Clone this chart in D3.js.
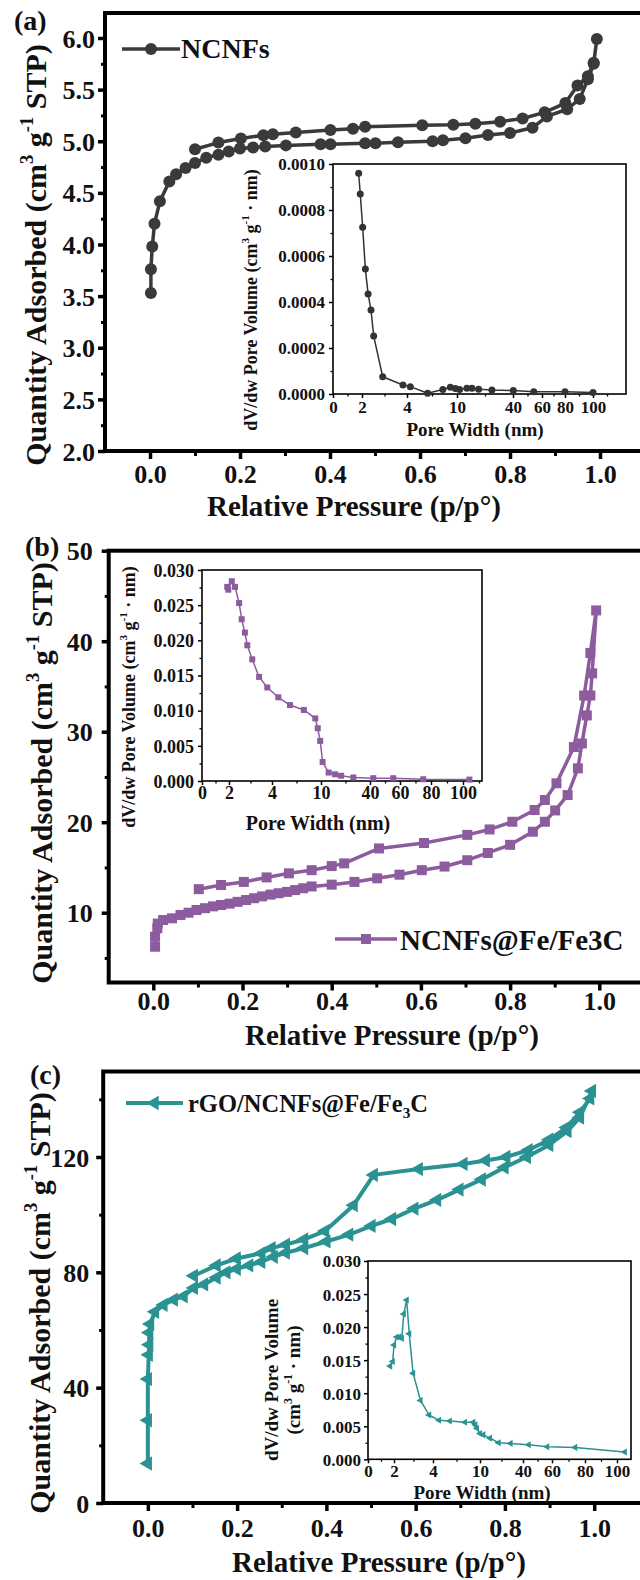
<!DOCTYPE html>
<html><head><meta charset="utf-8">
<script src="https://cdn.jsdelivr.net/npm/d3@7"></script>
<style>
body{margin:0;background:#fff}
text{font-family:"Liberation Serif","Times New Roman",serif;font-weight:bold;fill:#111}
</style>
</head><body><svg id="c" width="640" height="1580"></svg>
<script>
// ---------- DATA ----------
const xTicksMain = [0, 0.2, 0.4, 0.6, 0.8, 1.0];
const xMinorMain = [0.1, 0.3, 0.5, 0.7, 0.9];
const poreTicks = [0, 2, 4, 10, 40, 60, 80, 100];
const poreMinor = [1, 3, 7, 25, 50, 70, 90, 110];

// (a) NCNFs
const aTicksY = [2.0, 2.5, 3.0, 3.5, 4.0, 4.5, 5.0, 5.5, 6.0];
const aMinorY = [2.25, 2.75, 3.25, 3.75, 4.25, 4.75, 5.25, 5.75];
const adsA_p = [0.002,0.002,0.005,0.01,0.022,0.043,0.058,0.079,0.1,0.125,0.152,0.175,0.2,0.229,0.256,0.302,0.379,0.401,0.478,0.501,0.551,0.628,0.651,0.701,0.751,0.8,0.85,0.882,0.927,0.955,0.973,0.986,0.993];
const adsA_q = [3.53,3.76,3.98,4.2,4.42,4.61,4.68,4.74,4.79,4.84,4.87,4.9,4.93,4.94,4.95,4.96,4.97,4.97,4.98,4.98,4.99,5.0,5.01,5.03,5.06,5.08,5.13,5.24,5.31,5.41,5.6,5.75,5.99];
const desA_p = [0.986,0.973,0.95,0.923,0.877,0.828,0.778,0.723,0.674,0.605,0.478,0.451,0.401,0.324,0.273,0.252,0.202,0.152,0.1];
const desA_q = [5.76,5.63,5.54,5.37,5.28,5.22,5.19,5.17,5.16,5.155,5.14,5.12,5.11,5.084,5.068,5.058,5.026,4.987,4.922];
const poreA_w = [1.77,1.88,2.03,2.15,2.27,2.4,2.52,2.92,3.82,4.4,6.47,8.3,9.2,9.8,11.4,15.3,18,21.6,28.7,40.2,54.3,80,100];
const poreA_v = [0.00096,0.00087,0.000725,0.000543,0.000435,0.000365,0.000252,0.000075,0.000039,0.000032,0.000003,0.00002,0.000029,0.000024,0.00002,0.000025,0.000025,0.000021,0.000017,0.000015,0.00001,0.00001,0.000006];
const insetATicksY = [0, 0.0002, 0.0004, 0.0006, 0.0008, 0.0010];
const insetAMinorY = [0.0001, 0.0003, 0.0005, 0.0007, 0.0009];

// (b) NCNFs@Fe/Fe3C
const bTicksY = [10, 20, 30, 40, 50];
const bMinorY = [5, 15, 25, 35, 45];
const adsB_p = [0.004,0.004,0.009,0.01,0.022,0.042,0.061,0.079,0.097,0.116,0.134,0.152,0.171,0.189,0.208,0.226,0.244,0.263,0.281,0.3,0.318,0.336,0.355,0.4,0.451,0.502,0.552,0.602,0.653,0.704,0.75,0.8,0.851,0.878,0.901,0.929,0.952,0.961,0.972,0.98,0.984,0.993];
const adsB_q = [6.24,7.35,8.27,8.8,9.19,9.38,9.75,10.0,10.3,10.5,10.7,10.85,11.0,11.2,11.4,11.6,11.8,12.0,12.15,12.3,12.5,12.7,12.9,13.1,13.4,13.8,14.2,14.7,15.1,15.8,16.6,17.5,18.95,20.05,21.3,23.0,25.95,28.7,31.8,34.0,36.45,43.4];
const desB_p = [0.98,0.966,0.943,0.904,0.878,0.855,0.805,0.754,0.704,0.607,0.506,0.428,0.4,0.355,0.304,0.254,0.203,0.152,0.102];
const desB_q = [38.7,34.0,28.3,24.3,22.45,21.35,20.05,19.2,18.6,17.7,17.1,15.45,15.15,14.7,14.35,13.9,13.4,13.06,12.6];
const poreB_w = [1.87,1.95,2.13,2.28,2.47,2.59,2.74,2.85,3.08,3.4,3.78,4.77,6.2,7.9,9.3,9.6,9.9,11.0,14.7,18.6,22.3,29.8,42.2,55.5,75,104];
const poreB_v = [0.0276,0.0272,0.0284,0.0276,0.0253,0.023,0.0211,0.0193,0.0173,0.0148,0.0133,0.0119,0.0108,0.0101,0.0089,0.0075,0.0057,0.0027,0.0012,0.00095,0.00075,0.0005,0.0004,0.0004,0.00025,0.0002];
const insetBTicksY = [0, 0.005, 0.010, 0.015, 0.020, 0.025, 0.030];
const insetBMinorY = [0.0025, 0.0075, 0.0125, 0.0175, 0.0225, 0.0275];

// (c) rGO/NCNFs@Fe/Fe3C
const cTicksY = [0, 40, 80, 120];
const cMinorY = [20, 60, 100, 140];
const adsC_p = [0.0,0.0,0.0,0.002,0.003,0.003,0.005,0.016,0.035,0.058,0.08,0.103,0.126,0.154,0.176,0.199,0.227,0.254,0.282,0.309,0.35,0.4,0.451,0.501,0.547,0.597,0.648,0.698,0.748,0.799,0.849,0.899,0.94,0.968,0.995];
const adsC_q = [13.7,28.7,43,51.4,54.9,59.1,62.1,66.3,68.7,70.5,71.7,74.6,75.8,78.2,80.0,81.2,82.4,83.6,85.4,86.8,88.4,90.7,93.1,96.1,98.5,102.1,105.1,108.7,112.2,116.4,120,124.2,129,133.7,142.9];
const desC_p = [0.991,0.968,0.938,0.899,0.853,0.803,0.757,0.707,0.607,0.506,0.461,0.397,0.35,0.309,0.277,0.254,0.199,0.154,0.103];
const desC_q = [140.3,135.5,130.2,126,122.4,120.0,118.8,117.6,115.8,113.8,103.3,94.3,91.4,89.6,88.4,86.6,84.8,82.4,78.8];
const poreC_w = [1.7,1.9,2.0,2.14,2.27,2.4,2.5,2.65,2.78,2.98,3.36,3.8,4.77,6.14,8.07,9.14,9.4,9.6,10,12.3,17,23,31.3,43.9,56.6,74,105];
const poreC_v = [0.0141,0.0148,0.0173,0.0185,0.0185,0.0183,0.022,0.0241,0.019,0.013,0.0089,0.0067,0.0059,0.0058,0.0056,0.0056,0.0052,0.0047,0.0039,0.0037,0.0032,0.0025,0.0024,0.0022,0.0019,0.0018,0.0011];
const insetCTicksY = [0, 0.005, 0.010, 0.015, 0.020, 0.025, 0.030];
const insetCMinorY = [0.0025, 0.0075, 0.0125, 0.0175, 0.0225, 0.0275];

// ---------- DRAWING ----------
const svg = d3.select("#c");
svg.append("rect").attr("width", 640).attr("height", 1580).attr("fill", "#fff");

function zip(a, b) { return a.map((v, i) => [v, b[i]]); }

function markerPath(kind, size) {
  if (kind === "circle") return d3.symbol().type(d3.symbolCircle).size(Math.PI * size * size / 4)();
  if (kind === "square") return d3.symbol().type(d3.symbolSquare).size(size * size)();
  return d3.symbol().type(d3.symbolTriangle).size(size * size * 0.45)();
}

function drawSeries(g, pts, x, y, color, lw, kind, msize) {
  g.append("path").datum(pts)
    .attr("d", d3.line().x(d => x(d[0])).y(d => y(d[1])))
    .attr("fill", "none").attr("stroke", color).attr("stroke-width", lw).attr("stroke-linejoin", "round");
  const rot = kind === "tri" ? " rotate(-90)" : "";
  g.selectAll(null).data(pts).join("path")
    .attr("d", markerPath(kind, msize))
    .attr("transform", d => `translate(${x(d[0])},${y(d[1])})${rot}`)
    .attr("fill", color);
}

function styleAxis(sel, fontSize, sw) {
  sel.select(".domain").remove();
  sel.selectAll(".tick line").attr("stroke", "#000").attr("stroke-width", sw);
  sel.selectAll(".tick text").style("font-size", fontSize + "px").attr("fill", "#111");
}

function addSup(t, parts, size) {
  parts.forEach(p => {
    const s = t.append("tspan").text(p.t);
    if (p.sup) s.attr("dy", -size * 0.42).style("font-size", (size * 0.62) + "px");
    if (p.sub) s.attr("dy", size * 0.25).style("font-size", (size * 0.62) + "px");
    if (p.back) s.attr("dy", p.back);
  });
}

function yTitle(xb, yc, size) {
  const t = svg.append("text").attr("transform", `translate(${xb},${yc}) rotate(-90)`)
    .attr("text-anchor", "middle").style("font-size", size + "px");
  addSup(t, [{t: "Quantity Adsorbed (cm"}, {t: "3", sup: 1}, {t: " g", back: size * 0.42},
    {t: "-1", sup: 1}, {t: " STP)", back: size * 0.42}], size);
}

function mainPanel(c) {
  const x = d3.scaleLinear().domain([-0.1, 1.0]).range([c.x0, c.x1]);
  const y = d3.scaleLinear().domain(c.yDom).range(c.yRange);
  const g = svg.append("g");
  g.append("rect").attr("x", c.x0).attr("y", c.top).attr("width", 660 - c.x0).attr("height", c.bottom - c.top)
    .attr("fill", "none").attr("stroke", "#000").attr("stroke-width", 4);
  const xa = g.append("g").attr("transform", `translate(0,${c.bottom})`)
    .call(d3.axisBottom(x).tickValues(xTicksMain).tickSize(8).tickFormat(d3.format(".1f")));
  styleAxis(xa, c.tickFont, 3.5);
  xa.selectAll(".tick text").attr("y", c.xLabOff).attr("dy", 0);
  const xm = g.append("g").attr("transform", `translate(0,${c.bottom})`)
    .call(d3.axisBottom(x).tickValues(xMinorMain).tickSize(5).tickFormat(""));
  styleAxis(xm, c.tickFont, 3);
  const ya = g.append("g").attr("transform", `translate(${c.x0},0)`)
    .call(d3.axisLeft(y).tickValues(c.yTicks).tickSize(7).tickFormat(c.yFmt));
  styleAxis(ya, c.tickFont, 3.5);
  ya.selectAll(".tick text").attr("x", -c.yLabOff).attr("dy", "0.35em");
  const ym = g.append("g").attr("transform", `translate(${c.x0},0)`)
    .call(d3.axisLeft(y).tickValues(c.yMinor).tickSize(4).tickFormat(""));
  styleAxis(ym, c.tickFont, 3);
  const pts = zip(c.adsP, c.adsQ).concat(zip(c.desP, c.desQ));
  drawSeries(g, pts, x, y, c.color, c.lw, c.kind, c.msize);
  g.append("text").attr("x", c.xtX).attr("y", c.xtY).attr("text-anchor", "middle")
    .style("font-size", "29px").text("Relative Pressure (p/p°)");
  yTitle(c.ytX, c.ytY, 30);
  g.append("text").attr("x", c.plX).attr("y", c.plY).style("font-size", "28px").text(c.label);
  const L = c.legend;
  g.append("line").attr("x1", L.x1).attr("x2", L.x2).attr("y1", L.y).attr("y2", L.y)
    .attr("stroke", c.color).attr("stroke-width", c.lw);
  const rot = c.kind === "tri" ? " rotate(-90)" : "";
  g.append("path").attr("d", markerPath(c.kind, c.msize))
    .attr("transform", `translate(${(L.x1 + L.x2) / 2},${L.y})${rot}`).attr("fill", c.color);
  const lt = g.append("text").attr("transform", `translate(${L.tx},${L.ty}) scale(${L.sx},1)`)
    .style("font-size", L.fs + "px");
  addSup(lt, L.parts, L.fs);
}

function insetPanel(c) {
  const x = d3.scaleLinear().domain(poreTicks.concat([120])).range(c.xPx);
  const y = d3.scaleLinear().domain(c.yDom).range([c.bottom, c.top]);
  const g = svg.append("g");
  g.append("rect").attr("x", c.left).attr("y", c.top).attr("width", c.right - c.left).attr("height", c.bottom - c.top)
    .attr("fill", "#fff").attr("stroke", "#000").attr("stroke-width", 1.6);
  const xa = g.append("g").attr("transform", `translate(0,${c.bottom})`)
    .call(d3.axisBottom(x).tickValues(poreTicks).tickSize(4).tickFormat(d3.format("d")));
  styleAxis(xa, c.fs, 1.5);
  xa.selectAll(".tick text").attr("y", c.xLabOff).attr("dy", 0);
  const xm = g.append("g").attr("transform", `translate(0,${c.bottom})`)
    .call(d3.axisBottom(x).tickValues(poreMinor.filter(v => x(v) < c.right - 2)).tickSize(2.5).tickFormat(""));
  styleAxis(xm, c.fs, 1.3);
  const ya = g.append("g").attr("transform", `translate(${c.left},0)`)
    .call(d3.axisLeft(y).tickValues(c.yTicks).tickSize(4).tickFormat(d3.format(c.yFmt)));
  styleAxis(ya, c.fs, 1.5);
  ya.selectAll(".tick text").attr("x", -c.yLabOff).attr("dy", "0.35em");
  const ym = g.append("g").attr("transform", `translate(${c.left},0)`)
    .call(d3.axisLeft(y).tickValues(c.yMinor).tickSize(2.5).tickFormat(""));
  styleAxis(ym, c.fs, 1.3);
  drawSeries(g, zip(c.w, c.v), x, y, c.color, 1.5, c.kind, c.msize);
  g.append("text").attr("x", c.xtX).attr("y", c.xtY).attr("text-anchor", "middle")
    .style("font-size", c.tfs + "px").text("Pore Width (nm)");
  c.ylab.forEach(L => {
    const t = g.append("text").attr("transform", `translate(${L.x},${L.y}) rotate(-90)`)
      .attr("text-anchor", "middle").style("font-size", c.lfs + "px");
    addSup(t, L.parts, c.lfs);
  });
}

const unitParts = (s) => [{t: "(cm"}, {t: "3", sup: 1}, {t: " g", back: s * 0.42}, {t: "-1", sup: 1}, {t: " · nm)", back: s * 0.42}];
const fullParts = (s) => [{t: "dV/dw  Pore Volume "}].concat(unitParts(s));

// Panel (a)
mainPanel({
  x0: 105, x1: 600, top: 13, bottom: 451, yDom: [2, 6], yRange: [451, 38],
  yTicks: aTicksY, yMinor: aMinorY, yFmt: d3.format(".1f"), tickFont: 26,
  xLabOff: 32, yLabOff: 10,
  adsP: adsA_p, adsQ: adsA_q, desP: desA_p, desQ: desA_q,
  color: "#3a3a3a", lw: 3.5, kind: "circle", msize: 12,
  xtX: 354, xtY: 516, ytX: 46, ytY: 255, label: "(a)", plX: 14, plY: 30,
  legend: {x1: 122, x2: 180, y: 49, tx: 181, ty: 58, fs: 28, sx: 1.0, parts: [{t: "NCNFs"}]}
});
insetPanel({
  left: 333, right: 626, top: 164, bottom: 394, yDom: [0, 0.001],
  xPx: [333, 362, 407, 457, 513, 542, 565, 593, 621],
  yTicks: insetATicksY, yMinor: insetAMinorY, yFmt: ".4f", fs: 17, xLabOff: 19, yLabOff: 8,
  w: poreA_w, v: poreA_v, color: "#333", kind: "circle", msize: 7,
  xtX: 475, xtY: 436, tfs: 19, lfs: 18,
  ylab: [{x: 257, y: 300, parts: fullParts(18)}]
});

// Panel (b)
mainPanel({
  x0: 108.7, x1: 599.3, top: 550.7, bottom: 982.5, yDom: [10, 50], yRange: [912.7, 550.7],
  yTicks: bTicksY, yMinor: bMinorY, yFmt: d3.format("d"), tickFont: 26,
  xLabOff: 27, yLabOff: 16,
  adsP: adsB_p, adsQ: adsB_q, desP: desB_p, desQ: desB_q,
  color: "#8c5c9e", lw: 3.5, kind: "square", msize: 10,
  xtX: 392, xtY: 1045, ytX: 52, ytY: 773, label: "(b)", plX: 25, plY: 556,
  legend: {x1: 335, x2: 397, y: 939, tx: 400, ty: 950, fs: 29, sx: 1.0, parts: [{t: "NCNFs@Fe/Fe3C"}]}
});
insetPanel({
  left: 202, right: 482, top: 570, bottom: 781, yDom: [0, 0.03],
  xPx: [202, 229, 272, 321, 370, 400, 431, 463, 495],
  yTicks: insetBTicksY, yMinor: insetBMinorY, yFmt: ".3f", fs: 18, xLabOff: 18, yLabOff: 8,
  w: poreB_w, v: poreB_v, color: "#8c5c9e", kind: "square", msize: 6,
  xtX: 318, xtY: 830, tfs: 20, lfs: 18,
  ylab: [{x: 135, y: 697, parts: fullParts(18)}]
});

// Panel (c)
mainPanel({
  x0: 103.2, x1: 594.2, top: 1071.5, bottom: 1503, yDom: [0, 120], yRange: [1503, 1157],
  yTicks: cTicksY, yMinor: cMinorY, yFmt: d3.format("d"), tickFont: 26,
  xLabOff: 34, yLabOff: 14,
  adsP: adsC_p, adsQ: adsC_q, desP: desC_p, desQ: desC_q,
  color: "#2a9292", lw: 4, kind: "tri", msize: 14,
  xtX: 379, xtY: 1572, ytX: 50, ytY: 1303, label: "(c)", plX: 30, plY: 1084,
  legend: {x1: 126, x2: 183, y: 1103, tx: 188, ty: 1112, fs: 25, sx: 0.98,
    parts: [{t: "rGO/NCNFs@Fe/Fe"}, {t: "3", sub: 1}, {t: "C", back: -25 * 0.25}]}
});
insetPanel({
  left: 368, right: 631, top: 1261, bottom: 1459.3, yDom: [0, 0.03],
  xPx: [368, 394, 433, 480, 523, 552, 585, 617, 648],
  yTicks: insetCTicksY, yMinor: insetCMinorY, yFmt: ".3f", fs: 17, xLabOff: 18, yLabOff: 7,
  w: poreC_w, v: poreC_v, color: "#2a9292", kind: "tri", msize: 7,
  xtX: 482, xtY: 1499, tfs: 19, lfs: 19,
  ylab: [{x: 278, y: 1380, parts: [{t: "dV/dw  Pore Volume"}]}, {x: 300, y: 1380, parts: unitParts(19)}]
});
</script>
</body></html>
